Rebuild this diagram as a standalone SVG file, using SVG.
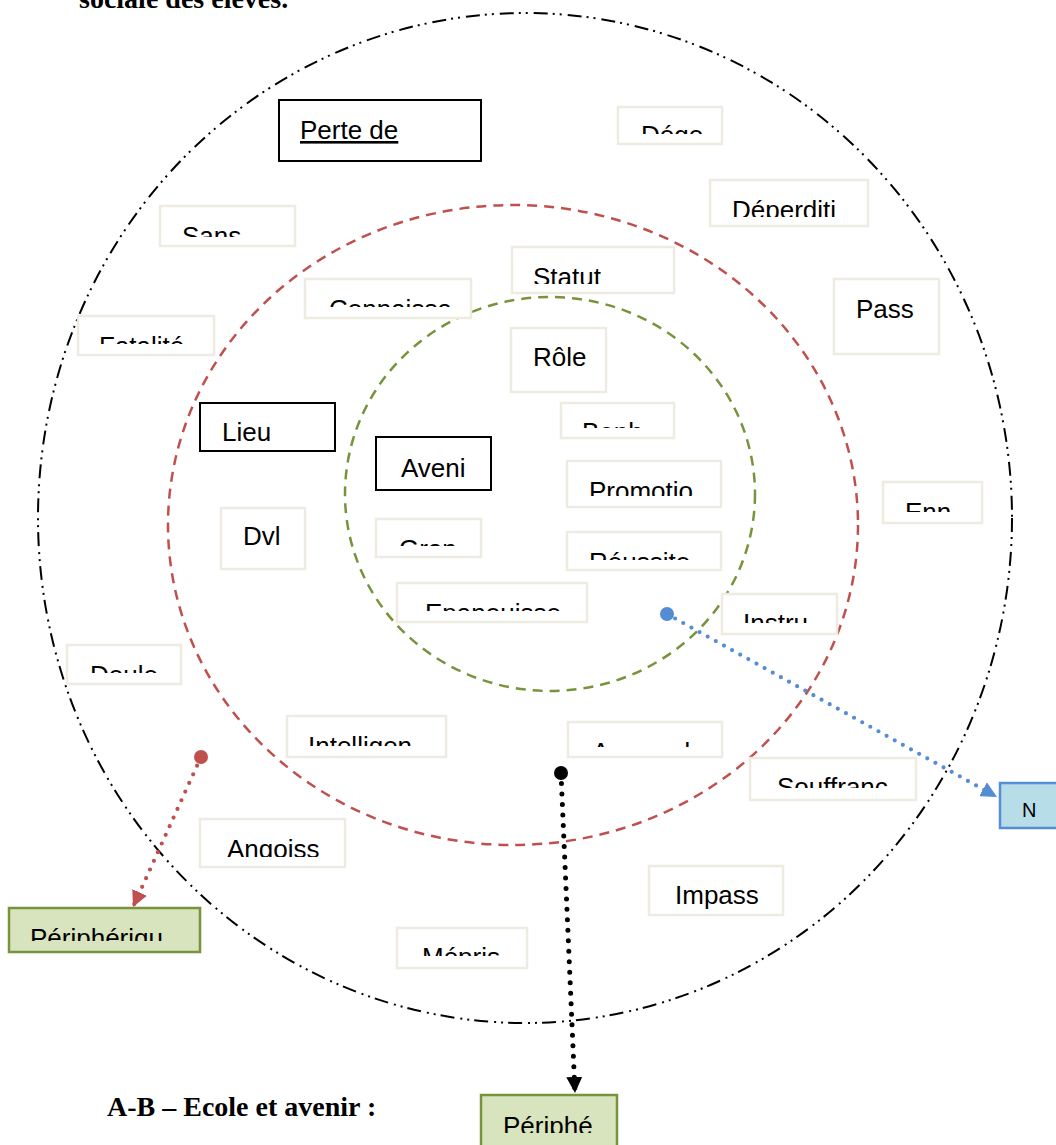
<svg xmlns="http://www.w3.org/2000/svg" width="1056" height="1145" viewBox="0 0 1056 1145">
<style>
.lb{fill:#fff;stroke:#eeece1;stroke-width:2.5}
.bk{fill:#fff;stroke:#000;stroke-width:2}
.gr{fill:#d7e4bd;stroke:#77933c;stroke-width:2.5}
.bl{fill:#b7dde8;stroke:#558ed5;stroke-width:2.5}
.t{font-family:"Liberation Sans",Arial,sans-serif;font-size:26px;fill:#000}
.h{font-family:"Liberation Serif","Times New Roman",serif;font-size:28px;font-weight:bold;fill:#000}
.ring{fill:none}
.dot{fill:none;stroke-linecap:round}
</style>
<defs>
<marker id="arB" viewBox="0 0 10 10" refX="10" refY="5" markerWidth="16" markerHeight="16" markerUnits="userSpaceOnUse" orient="auto"><path d="M0,0 L10,5 L0,10 z" fill="#548dd4"/></marker>
<marker id="arR" viewBox="0 0 10 10" refX="10" refY="5" markerWidth="16" markerHeight="16" markerUnits="userSpaceOnUse" orient="auto"><path d="M0,0 L10,5 L0,10 z" fill="#c0504d"/></marker>
<marker id="arK" viewBox="0 0 10 10" refX="10" refY="5" markerWidth="16" markerHeight="16" markerUnits="userSpaceOnUse" orient="auto"><path d="M0,0 L10,5 L0,10 z" fill="#000"/></marker>
<clipPath id="c-dege"><rect x="618" y="107" width="104" height="27"/></clipPath>
<clipPath id="c-deperditi"><rect x="710" y="180" width="158" height="37"/></clipPath>
<clipPath id="c-sans"><rect x="160" y="206" width="135" height="31"/></clipPath>
<clipPath id="c-statut"><rect x="512" y="247" width="162" height="37"/></clipPath>
<clipPath id="c-connaissa"><rect x="305" y="279" width="166" height="28"/></clipPath>
<clipPath id="c-fatalite"><rect x="78" y="316" width="136" height="28"/></clipPath>
<clipPath id="c-bonh"><rect x="561" y="403" width="113" height="25"/></clipPath>
<clipPath id="c-promotio"><rect x="567" y="461" width="154" height="35"/></clipPath>
<clipPath id="c-enn"><rect x="883" y="482" width="99" height="30"/></clipPath>
<clipPath id="c-gran"><rect x="376" y="519" width="105" height="27"/></clipPath>
<clipPath id="c-reussite"><rect x="567" y="532" width="154" height="28"/></clipPath>
<clipPath id="c-epanouisse"><rect x="397" y="583" width="190" height="28"/></clipPath>
<clipPath id="c-instru"><rect x="722" y="594" width="115" height="29"/></clipPath>
<clipPath id="c-doule"><rect x="67" y="645" width="114" height="28"/></clipPath>
<clipPath id="c-intelligen"><rect x="287" y="716" width="159" height="30"/></clipPath>
<clipPath id="c-apprend"><rect x="568" y="722" width="154" height="25"/></clipPath>
<clipPath id="c-souffranc"><rect x="750" y="758" width="166" height="30"/></clipPath>
<clipPath id="c-angoiss"><rect x="200" y="819" width="145" height="38"/></clipPath>
<clipPath id="c-impass"><rect x="649" y="866" width="134" height="44"/></clipPath>
<clipPath id="c-mepris"><rect x="397" y="928" width="130" height="28"/></clipPath>
<clipPath id="c-peripheriqu"><rect x="9" y="908" width="191" height="33"/></clipPath>
<clipPath id="c-periphe"><rect x="481" y="1095" width="136" height="38"/></clipPath>
</defs>
<rect width="1056" height="1145" fill="#fff"/>

<text class="h" x="79" y="8">sociale des élèves.</text>
<text class="h" x="107" y="1116">A-B – Ecole et avenir :</text>

<g id="rings">
<ellipse class="ring" cx="525" cy="518" rx="487" ry="505" stroke="#000" stroke-width="2" stroke-dasharray="14 5 2 5 2 6"/>
<ellipse class="ring" cx="513" cy="525" rx="345" ry="320" stroke="#c0504d" stroke-width="2.5" stroke-dasharray="10 7"/>
<ellipse class="ring" cx="550" cy="494" rx="205" ry="197" stroke="#77933c" stroke-width="2.5" stroke-dasharray="10 7"/>
</g>

<g id="perte"><rect class="bk" x="279" y="100" width="202" height="61"/><text class="t" x="300" y="139" text-decoration="underline">Perte de</text></g>
<g id="dege"><rect class="lb" x="618" y="107" width="104" height="37"/><text class="t" x="641" y="144" clip-path="url(#c-dege)">Dége</text></g>
<g id="deperditi"><rect class="lb" x="710" y="180" width="158" height="46"/><text class="t" x="732" y="219" clip-path="url(#c-deperditi)">Déperditi</text></g>
<g id="sans"><rect class="lb" x="160" y="206" width="135" height="40"/><text class="t" x="182" y="245" clip-path="url(#c-sans)">Sans</text></g>
<g id="statut"><rect class="lb" x="512" y="247" width="162" height="46"/><text class="t" x="533" y="286" clip-path="url(#c-statut)">Statut</text></g>
<g id="connaissa"><rect class="lb" x="305" y="279" width="166" height="39"/><text class="t" x="329" y="318" clip-path="url(#c-connaissa)">Connaissa</text></g>
<g id="pass"><rect class="lb" x="834" y="279" width="105" height="75"/><text class="t" x="856" y="318">Pass</text></g>
<g id="fatalite"><rect class="lb" x="78" y="316" width="136" height="39"/><text class="t" x="99" y="355" clip-path="url(#c-fatalite)">Fatalité</text></g>
<g id="role"><rect class="lb" x="511" y="328" width="95" height="64"/><text class="t" x="533" y="366">Rôle</text></g>
<g id="bonh"><rect class="lb" x="561" y="403" width="113" height="35"/><text class="t" x="582" y="441" clip-path="url(#c-bonh)">Bonh</text></g>
<g id="lieu"><rect class="bk" x="200" y="403" width="135" height="48"/><text class="t" x="222" y="441">Lieu</text></g>
<g id="aveni"><rect class="bk" x="376" y="437" width="115" height="53"/><text class="t" x="401" y="477">Aveni</text></g>
<g id="promotio"><rect class="lb" x="567" y="461" width="154" height="46"/><text class="t" x="589" y="500" clip-path="url(#c-promotio)">Promotio</text></g>
<g id="enn"><rect class="lb" x="883" y="482" width="99" height="41"/><text class="t" x="905" y="521" clip-path="url(#c-enn)">Enn</text></g>
<g id="dvl"><rect class="lb" x="221" y="508" width="84" height="61"/><text class="t" x="243" y="545">Dvl</text></g>
<g id="gran"><rect class="lb" x="376" y="519" width="105" height="38"/><text class="t" x="399" y="558" clip-path="url(#c-gran)">Gran</text></g>
<g id="reussite"><rect class="lb" x="567" y="532" width="154" height="38"/><text class="t" x="589" y="571" clip-path="url(#c-reussite)">Réussite</text></g>
<g id="epanouisse"><rect class="lb" x="397" y="583" width="190" height="39"/><text class="t" x="425" y="622" clip-path="url(#c-epanouisse)">Epanouisse</text></g>
<g id="instru"><rect class="lb" x="722" y="594" width="115" height="40"/><text class="t" x="743" y="632" clip-path="url(#c-instru)">Instru</text></g>
<g id="doule"><rect class="lb" x="67" y="645" width="114" height="39"/><text class="t" x="90" y="684" clip-path="url(#c-doule)">Doule</text></g>
<g id="intelligen"><rect class="lb" x="287" y="716" width="159" height="41"/><text class="t" x="308" y="755" clip-path="url(#c-intelligen)">Intelligen</text></g>
<g id="apprend"><rect class="lb" x="568" y="722" width="154" height="35"/><text class="t" x="592" y="761" clip-path="url(#c-apprend)">Apprend</text></g>
<g id="souffranc"><rect class="lb" x="750" y="758" width="166" height="42"/><text class="t" x="777" y="796" clip-path="url(#c-souffranc)">Souffranc</text></g>
<g id="angoiss"><rect class="lb" x="200" y="819" width="145" height="48"/><text class="t" x="227" y="858" clip-path="url(#c-angoiss)">Angoiss</text></g>
<g id="impass"><rect class="lb" x="649" y="866" width="134" height="49"/><text class="t" x="675" y="904" clip-path="url(#c-impass)">Impass</text></g>
<g id="mepris"><rect class="lb" x="397" y="928" width="130" height="40"/><text class="t" x="422" y="966" clip-path="url(#c-mepris)">Mépris</text></g>
<g id="peripheriqu"><rect class="gr" x="9" y="908" width="191" height="44"/><text class="t" x="30" y="947" clip-path="url(#c-peripheriqu)">Périphériqu</text></g>
<g id="periphe"><rect class="gr" x="481" y="1095" width="136" height="52"/><text class="t" x="503" y="1135" clip-path="url(#c-periphe)">Périphé</text></g>
<g id="n"><rect class="bl" x="1000" y="783" width="62" height="45"/><text class="t" x="1022" y="817" style="font-size:20px">N</text></g>

<g id="connectors">
<circle cx="667" cy="614" r="7" fill="#548dd4"/>
<path class="dot" d="M667,614 L997,797" stroke="#548dd4" stroke-width="4.2" stroke-dasharray="0 9.3" marker-end="url(#arB)"/>
<circle cx="201" cy="757" r="7" fill="#c0504d"/>
<path class="dot" d="M201,757 L133,907" stroke="#c0504d" stroke-width="4.2" stroke-dasharray="0 9.5" marker-end="url(#arR)"/>
<circle cx="561" cy="773" r="7" fill="#000"/>
<path class="dot" d="M561,773 L575,1093" stroke="#000" stroke-width="5" stroke-dasharray="0 10.5" marker-end="url(#arK)"/>
</g>
</svg>
